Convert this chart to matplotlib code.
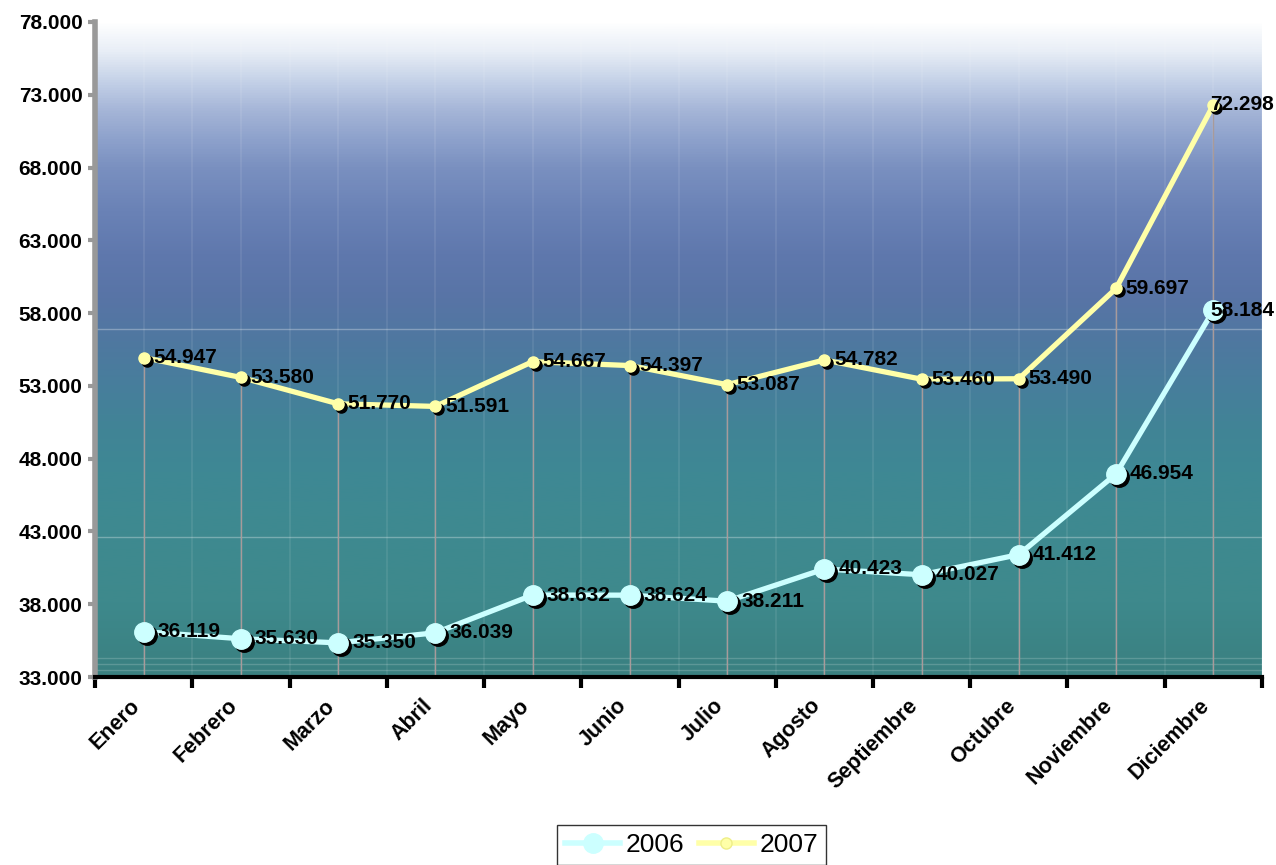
import matplotlib.pyplot as plt
import matplotlib.transforms as mtransforms
from matplotlib.colors import LinearSegmentedColormap
from matplotlib.ticker import FuncFormatter
import numpy as np

plt.rcParams['font.family'] = ['Liberation Sans', 'DejaVu Sans']

# Monthly values (thousands, Spanish decimal separator in labels)
MESES = ["Enero", "Febrero", "Marzo", "Abril", "Mayo", "Junio", "Julio",
         "Agosto", "Septiembre", "Octubre", "Noviembre", "Diciembre"]
SERIE_2006 = [36.119, 35.630, 35.350, 36.039, 38.632, 38.624, 38.211,
              40.423, 40.027, 41.412, 46.954, 58.184]
SERIE_2007 = [54.947, 53.580, 51.770, 51.591, 54.667, 54.397, 53.087,
              54.782, 53.460, 53.490, 59.697, 72.298]
Y_TICKS = [33, 38, 43, 48, 53, 58, 63, 68, 73, 78]

COL_2006 = "#ccffff"
COL_2007 = "#ffffa8"

# background colour stops, keyed by y value
BG_STOPS = [(33, "#3a8080"), (38, "#3e898c"), (43, "#3e8a90"), (47, "#3e8894"),
            (50, "#418496"), (53, "#477e9c"), (56, "#4f78a0"), (59, "#5874a6"),
            (62, "#5f78ad"), (65, "#6a82b6"), (68, "#7a90c0"), (70, "#8ea2cc"),
            (72, "#a6b6d8"), (74, "#c5d2e8"), (76, "#e8eef6"), (78, "#ffffff")]


def fmt_es(v):
    return f"{v:.3f}"


fig = plt.figure(figsize=(12.76, 8.65), dpi=100)
ax = fig.add_axes([0.0745, 0.2173, 0.9145, 0.7573])
x = np.arange(len(MESES))
ax.set_xlim(-0.5, 11.5)
ax.set_ylim(33, 78)

bg = LinearSegmentedColormap.from_list(
    "bg", [((v - 33) / 45, c) for v, c in BG_STOPS])
grad = np.linspace(0, 1, 512).reshape(-1, 1)
ax.imshow(grad, aspect="auto", cmap=bg, origin="lower",
          extent=(-0.5, 11.5, 33, 78), zorder=0)
for yy in (56.9, 42.6):
    ax.axhline(yy, color="white", alpha=0.3, lw=1, zorder=1)
for yy in (33.5, 33.9, 34.3):
    ax.axhline(yy, color="white", alpha=0.18, lw=1, zorder=1)
for xx in np.arange(-0.5, 11.6, 0.5):
    ax.axvline(xx, color="white", alpha=0.08, lw=1.5, zorder=1)

# drop lines from the higher series to the axis
ax.vlines(x, 33, SERIE_2007, color="#a89a9a", lw=1, zorder=2)

shadow = mtransforms.offset_copy(ax.transData, fig=fig, x=3, y=-3, units="dots")

ax.plot(x, SERIE_2006, color=COL_2006, lw=3.8, zorder=3)
ax.plot(x, SERIE_2006, "o", color="black", ms=14, transform=shadow, zorder=4)
ax.plot(x, SERIE_2006, "o", color=COL_2006, ms=14, mec=COL_2006, zorder=5)

ax.plot(x, SERIE_2007, color=COL_2007, lw=3.8, zorder=3)
ax.plot(x, SERIE_2007, "o", color="black", ms=8, transform=shadow, zorder=4)
ax.plot(x, SERIE_2007, "o", color=COL_2007, ms=8, mec=COL_2007, zorder=5)

for i, (a, b) in enumerate(zip(SERIE_2006, SERIE_2007)):
    dx = 10 if i < 11 else -2
    ax.annotate(fmt_es(a), (i, a), xytext=(dx, 0), textcoords="offset points",
                fontsize=15, fontweight="bold", va="center", ha="left", zorder=6)
    dx = 7 if i < 11 else -2
    ax.annotate(fmt_es(b), (i, b), xytext=(dx, 0), textcoords="offset points",
                fontsize=15, fontweight="bold", va="center", ha="left", zorder=6)

ax.set_yticks(Y_TICKS)
ax.yaxis.set_major_formatter(FuncFormatter(lambda v, p: fmt_es(v)))
ax.tick_params(axis="y", labelsize=15, colors="#999999", width=3, length=5,
               direction="out", pad=4)
for lbl in ax.get_yticklabels():
    lbl.set_color("black")
    lbl.set_fontweight("bold")

ax.set_xticks(x)
ax.set_xticklabels(MESES, rotation=45, ha="right", rotation_mode="anchor",
                   fontsize=15.5, fontweight="bold")
ax.tick_params(axis="x", length=0, pad=16)
shift = mtransforms.ScaledTranslation(-0.14, 0.04, fig.dpi_scale_trans)
for lbl in ax.get_xticklabels():
    lbl.set_transform(lbl.get_transform() + shift)
ax.set_xticks(np.arange(-0.5, 11.6, 1.0), minor=True)
ax.tick_params(axis="x", which="minor", length=8, width=3, color="black")

for s in ("top", "right"):
    ax.spines[s].set_visible(False)
ax.spines["left"].set_color("#999999")
ax.spines["left"].set_linewidth(4)
ax.spines["bottom"].set_color("black")
ax.spines["bottom"].set_linewidth(3)

h1, = ax.plot([], [], "-o", color=COL_2006, lw=4, ms=14, label="2006")
h2, = ax.plot([], [], "-o", color=COL_2007, lw=4, ms=8, mec="#eeee88",
              label="2007")
leg = fig.legend(handles=[h1, h2], loc="lower center", ncol=2,
                 bbox_to_anchor=(0.542, -0.009), fontsize=19, frameon=True,
                 fancybox=False, edgecolor="black", handlelength=2.1,
                 borderpad=0.3, borderaxespad=0.3, columnspacing=0.55,
                 handletextpad=0.2)
leg.get_frame().set_linewidth(1)

fig.savefig("out.png", dpi=100)
